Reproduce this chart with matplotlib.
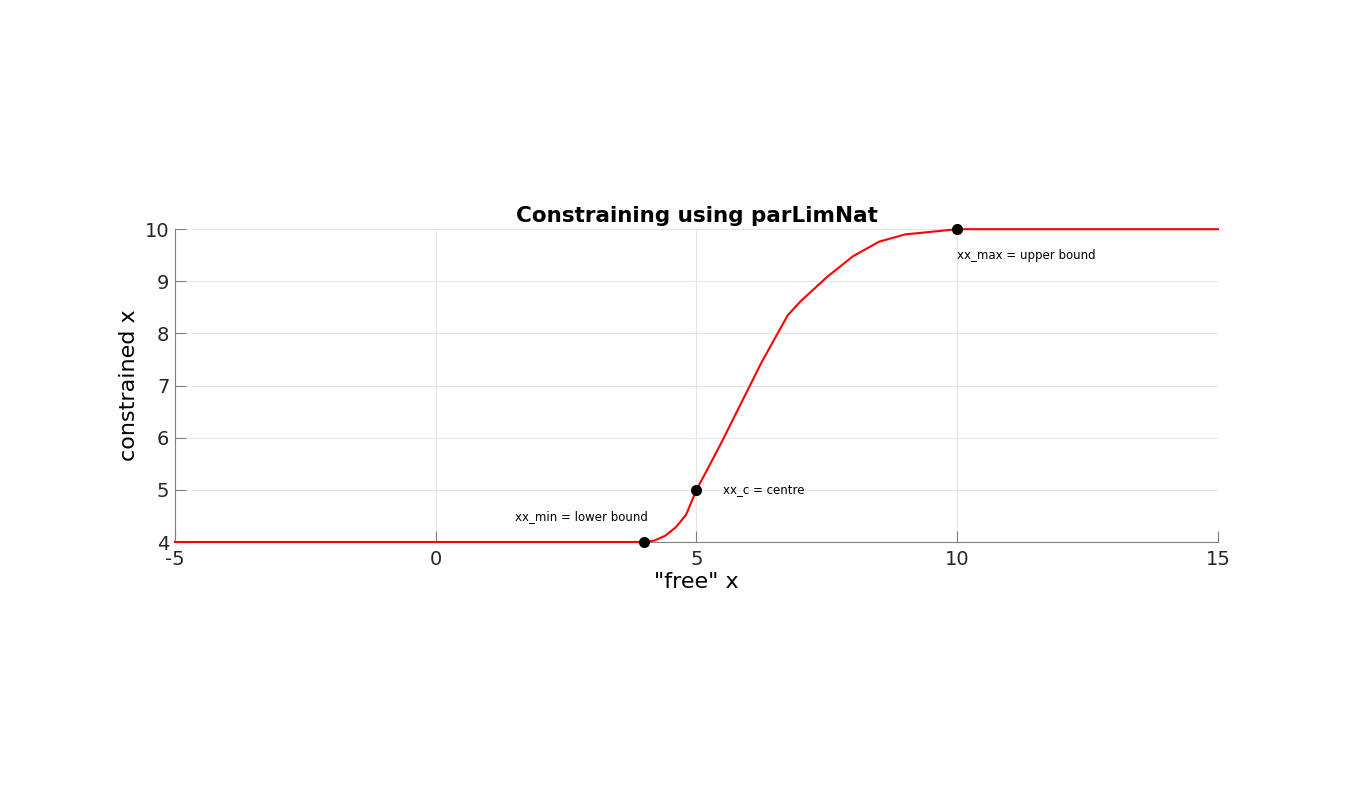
import matplotlib
matplotlib.use("Agg")
import matplotlib.pyplot as plt

xs = [-5, 3.9, 4.0, 4.2, 4.4, 4.6, 4.8, 5.0, 5.25, 5.5, 5.75, 6.0, 6.25, 6.5, 6.75, 7.0, 7.5, 8.0, 8.5, 9.0, 9.5, 10, 11, 15]
ys = [4, 4, 4, 4.03, 4.12, 4.28, 4.52, 5.0, 5.47, 5.95, 6.45, 6.95, 7.45, 7.9, 8.35, 8.62, 9.08, 9.48, 9.76, 9.9, 9.95, 10.0, 10.0, 10.0]
pts_x = [4, 5, 10]
pts_y = [4, 5, 10]
labels = ["xx_min = lower bound", "xx_c = centre", "xx_max = upper bound"]
lab_x = [1.52, 5.5, 10.0]
lab_y = [4.48, 5.0, 9.5]

fig = plt.figure(figsize=(13.47, 8.0), dpi=100)
ax = fig.add_axes([0.1299, 0.3225, 0.7743, 0.391])
ax.plot(xs, ys, color='red', lw=1.5, clip_on=False, zorder=4)
ax.plot(pts_x, pts_y, 'o', color='black', ms=7, clip_on=False, zorder=5)
for t, x, y in zip(labels, lab_x, lab_y):
    ax.text(x, y, t, fontsize=8.5, va='center', ha='left')
ax.set_xlim(-5, 15)
ax.set_ylim(4, 10)
ax.set_xticks([-5, 0, 5, 10, 15])
ax.set_xticklabels(['-5', '0', '5', '10', '15'])
ax.grid(True, color='#e6e6e6', lw=0.8)
for s in ['top', 'right']:
    ax.spines[s].set_visible(False)
for s in ['left', 'bottom']:
    ax.spines[s].set_color('#808080')
ax.tick_params(direction='in', length=8, colors='#808080', labelcolor='#262626', labelsize=14)
ax.tick_params(axis='x', pad=6)
ax.tick_params(axis='y', pad=4)
ax.set_xlabel('"free" x', fontsize=16, labelpad=2)
ax.set_ylabel('constrained x', fontsize=16)
ax.set_title('Constraining using parLimNat', fontsize=15.5, fontweight='bold', pad=5)
fig.savefig('out.png')
